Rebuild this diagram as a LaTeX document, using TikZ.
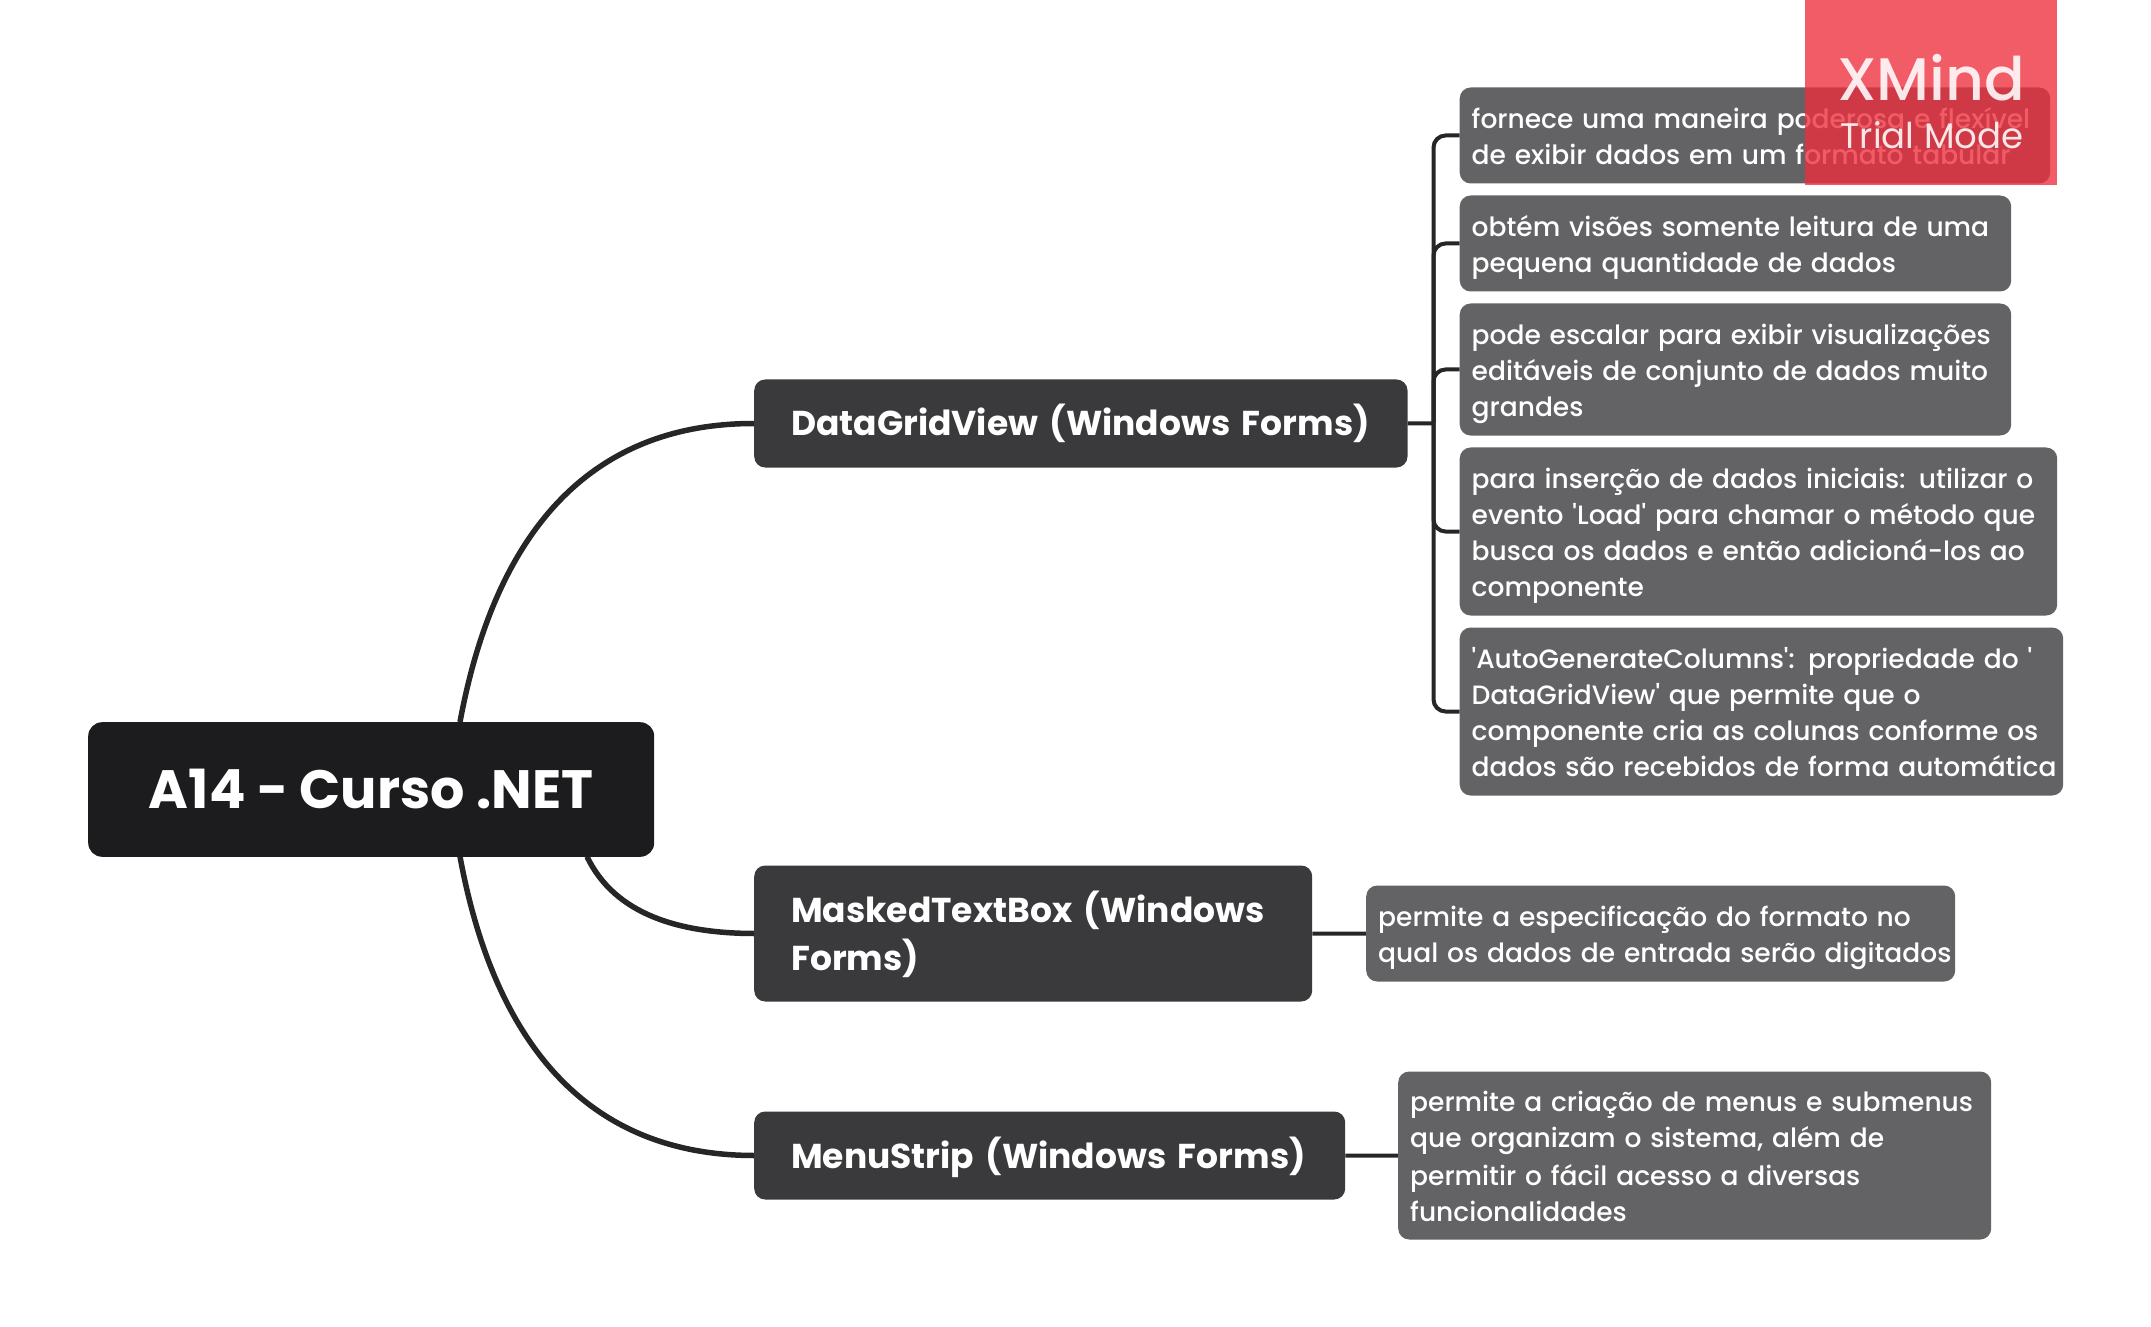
\documentclass[tikz,border=0pt]{standalone}
\usepackage{fontspec}
\setmainfont{Poppins}[UprightFont=* Medium,BoldFont=* Bold,Ligatures=TeXOff]
\newfontfamily\wmfont{Poppins}
\usetikzlibrary{backgrounds,calc}
\definecolor{rootc}{HTML}{1C1C1E}
\definecolor{branchc}{HTML}{3A3A3C}
\definecolor{leafc}{HTML}{636366}
\definecolor{linec}{HTML}{262628}
\definecolor{wmc}{HTML}{EE2E3C}
\tikzset{
  x=1bp,y=-1bp,
  rootbox/.style={fill=rootc,text=white,rounded corners=14bp,inner xsep=0bp,inner ysep=0bp,align=center,font=\bfseries\fontsize{54bp}{60bp}\selectfont},
  branchbox/.style={fill=branchc,text=white,rounded corners=11bp,inner xsep=37bp,inner ysep=0bp,align=left,font=\bfseries\fontsize{34.5bp}{48bp}\selectfont},
  leafbox/.style={fill=leafc,text=white,rounded corners=11bp,inner xsep=12bp,inner ysep=0bp,align=left,font=\fontsize{26.5bp}{36bp}\selectfont},
  trunk/.style={draw=linec,line width=4bp,rounded corners=12bp},
  curve/.style={draw=linec,line width=5.5bp},
  stub/.style={draw=linec,line width=4bp},
}
\newcommand{\li}[1]{\mbox{\rule[-7bp]{0pt}{36bp}#1}}
\newcommand{\lb}[1]{\mbox{\rule[-11.5bp]{0pt}{48bp}#1}}
\newcommand{\boxnode}[7]{% style,name,x0,y0,x1,y1,text
  \node[#1,minimum height=#6bp-#4bp,text width=#5bp-#3bp-2*\pgfkeysvalueof{/pgf/inner xsep},anchor=north west] (#2) at (#3,#4) {#7};}
\begin{document}
\begin{tikzpicture}
\useasboundingbox (0,0) rectangle (2151,1327);
\node[rootbox,minimum width=566bp,minimum height=134.6bp,anchor=north west] (root) at (88,722) {A14 - Curso .NET};
\boxnode{branchbox}{b1}{754}{379.3}{1407.3}{467.3}{\lb{DataGridView (Windows Forms)}}
\boxnode{branchbox}{b2}{754}{865.3}{1312}{1001.3}{\lb{MaskedTextBox (Windows}\\\lb{Forms)}}
\boxnode{branchbox}{b3}{754}{1111.3}{1345}{1199.3}{\lb{MenuStrip (Windows Forms)}}
\boxnode{leafbox}{l1}{1459.5}{87.3}{2050}{183.3}{\li{fornece uma maneira poderosa e flexível}\\\li{de exibir dados em um formato tabular}}
\boxnode{leafbox}{l2}{1459.5}{195.3}{2011}{291.3}{\li{obtém visões somente leitura de uma}\\\li{pequena quantidade de dados}}
\boxnode{leafbox}{l3}{1459.5}{303.3}{2011}{435.3}{\li{pode escalar para exibir visualizações}\\\li{editáveis de conjunto de dados muito}\\\li{grandes}}
\boxnode{leafbox}{l4}{1459.5}{447.3}{2057}{615.3}{\li{para inserção de dados iniciais: utilizar o}\\\li{evento 'Load' para chamar o método que}\\\li{busca os dados e então adicioná-los ao}\\\li{componente}}
\boxnode{leafbox}{l5}{1459.5}{627.3}{2063}{795.3}{\li{'AutoGenerateColumns': propriedade do '}\\\li{DataGridView' que permite que o}\\\li{componente cria as colunas conforme os}\\\li{dados são recebidos de forma automática}}
\boxnode{leafbox}{m1}{1366}{885.3}{1955}{981.3}{\li{permite a especificação do formato no}\\\li{qual os dados de entrada serão digitados}}
\boxnode{leafbox}{s1}{1398}{1071.3}{1991}{1239.3}{\li{permite a criação de menus e submenus}\\\li{que organizam o sistema, além de}\\\li{permitir o fácil acesso a diversas}\\\li{funcionalidades}}
\coordinate (rt) at (460,722);
\coordinate (rb) at (460,856.6);
\coordinate (rm) at (587,856.6);
\coordinate (tk) at (1433.5,423.3);
\begin{scope}[on background layer]
\draw[curve] (rt) .. controls (490,560) and (570,423.3) .. (b1.west);
\draw[curve] (rb) .. controls (490,1019) and (570,1155.3) .. (b3.west);
\draw[curve] (rm) .. controls (615,915) and (680,933.3) .. (b2.west);
\draw[stub] (b1.east) -- (tk);
\foreach \n in {l1,l2,l3,l4,l5}{
  \draw[trunk] (tk) -- (tk |- \n.west) -- (\n.west);
}
\draw[stub] (b2.east) -- (m1.west);
\draw[stub] (b3.east) -- (s1.west);
\end{scope}
\node[fill=wmc,fill opacity=.78,minimum width=251.6bp,minimum height=185bp,inner sep=0bp,anchor=north west] (wm) at (1805,0) {};
\node[text=white,text opacity=.88,inner sep=0bp,font=\fontsize{60bp}{64bp}\selectfont] (wm1) at (1931,78) {XMind};
\node[text=white,text opacity=.88,inner sep=0bp,font=\wmfont\fontsize{35.5bp}{40bp}\selectfont] (wm2) at (1932,135) {Trial Mode};
\end{tikzpicture}
\end{document}
